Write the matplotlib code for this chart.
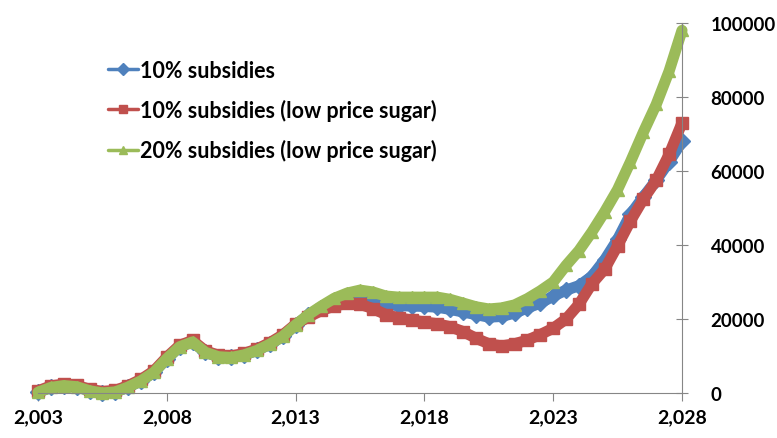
import numpy as np
import matplotlib
matplotlib.use("Agg")
import matplotlib.pyplot as plt
from matplotlib.ticker import FuncFormatter

# values, half-year steps 2003 -> 2028
years = np.arange(2003, 2028.01, 0.5)

sub10 = [200, 1500, 2000, 1700, 600, 0, 300, 1600, 3300, 5600,
         9300, 12500, 13800, 11000, 9800, 9600, 10300, 11500, 13200, 15300,
         18400, 21000, 23000, 24500, 25300, 25400, 24900, 24000, 23600, 23500,
         23400, 23200, 22600, 21900, 21200, 20500, 20700, 21600, 23000, 24300,
         26200, 27800, 29000, 31500, 36000, 41500, 48300, 53000, 57500, 62500,
         68000]

sub10_low = [600, 1900, 2400, 2100, 1000, 400, 700, 2000, 3700, 6000,
             9700, 12900, 14200, 11400, 10200, 10000, 10700, 11900, 13600, 15700,
             18600, 20500, 22300, 23500, 24200, 24000, 22800, 21200, 20300, 19700,
             19200, 18700, 17900, 16600, 14800, 13300, 12700, 13300, 14300, 15800,
             17500, 20000, 24000, 29500, 33500, 39800, 46500, 52400, 57500, 64500,
             73000]

sub20_low = [200, 1500, 2000, 1700, 600, 0, 300, 1600, 3300, 5600,
             9300, 12500, 13800, 11000, 9800, 9600, 10300, 11500, 13200, 15300,
             18400, 21200, 23500, 25600, 27000, 27800, 27300, 26200, 25900, 25900,
             25900, 25900, 25300, 24300, 23300, 22700, 23000, 23800, 25500, 27600,
             30000, 34500, 38500, 43500, 49000, 55000, 62500, 70500, 78000, 87000,
             98000]

labels = ["10% subsidies", "10% subsidies (low price sugar)", "20% subsidies (low price sugar)"]
colors = ["#4F81BD", "#C0504D", "#9BBB59"]
markers = ["D", "s", "^"]

plt.rcParams["font.family"] = ["Lato", "DejaVu Sans"]

fig = plt.figure(figsize=(7.77, 4.39), dpi=100)
ax = fig.add_axes([38 / 777, 45 / 439, 644 / 777, 370 / 439])

for vals, lab, c, m in zip([sub10, sub10_low, sub20_low], labels, colors, markers):
    ax.plot(years, vals, color=c, lw=8, marker=m, ms=8, mec=c, mfc=c,
            label=lab, clip_on=False, solid_capstyle="round")

ax.set_xlim(2003, 2028)
ax.set_ylim(0, 100000)
ax.set_xticks(np.arange(2003, 2029, 5))
ax.set_yticks(np.arange(0, 100001, 20000))
ax.xaxis.set_major_formatter(FuncFormatter(lambda v, p: f"{v:,.0f}"))

for s in ["left", "top"]:
    ax.spines[s].set_visible(False)
ax.spines["right"].set_color("#868686")
ax.spines["bottom"].set_color("#868686")
ax.yaxis.tick_right()
ax.tick_params(axis="y", direction="inout", length=9, color="#868686", pad=16,
               labelsize=13.5)
ax.tick_params(axis="x", direction="out", length=6, color="#868686", pad=5,
               labelsize=14)
for t in ax.get_xticklabels() + ax.get_yticklabels():
    t.set_fontweight("bold")

leg = ax.legend(loc="upper left", bbox_to_anchor=(0.092, 0.93), frameon=False,
                borderpad=0, handlelength=1.4, handletextpad=0.1, labelspacing=0.85,
                prop={"size": 15.5, "weight": "bold"})
for h in leg.get_lines():
    h.set_linewidth(2.5)
    h.set_markersize(6)

fig.savefig("out.png", dpi=100)
